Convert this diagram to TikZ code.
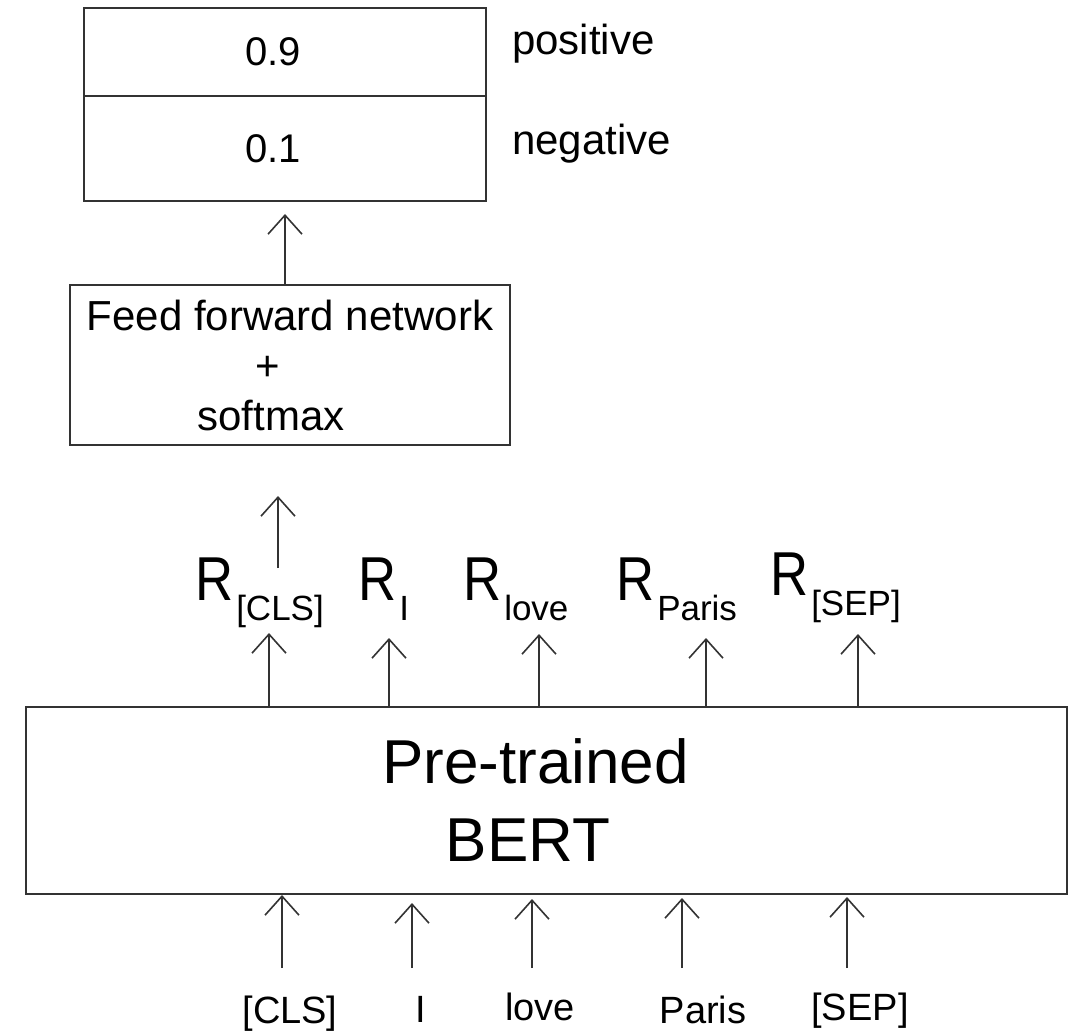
\documentclass[tikz,border=0pt]{standalone}
\usepackage{fontspec}
\setmainfont{Liberation Sans}
\newfontfamily\narrowfont{Liberation Sans}[FakeStretch=0.85]
\usepackage{tikz}
\usetikzlibrary{arrows.meta, positioning}

\definecolor{edge}{HTML}{333333}
\tikzset{
  box/.style={draw=edge, line width=2pt, inner sep=0pt},
  lbl/.style={inner sep=0pt},
  up/.style={draw=edge, line width=1.6pt, -{Straight Barb[length=19pt,width=34pt]}},
}
% R with a lowered token name
\newcommand{\rep}[1]{{\narrowfont\fontsize{62}{66}\selectfont R}\kern3pt\raisebox{-20pt}{\fontsize{35}{40}\selectfont #1}}

\begin{document}
\begin{tikzpicture}[x=1pt, y=-1pt]
  \useasboundingbox (0,0) rectangle (1069,1032);

  % class scores
  \node[box, minimum width=402, minimum height=88, font=\fontsize{40}{48}\selectfont] (pos) at (285,52) {0.9\kern24pt};
  \node[box, minimum width=402, minimum height=105, font=\fontsize{40}{48}\selectfont] (neg) at (285,148.5) {0.1\kern24pt};
  \node[lbl, anchor=base west, font=\fontsize{42}{48}\selectfont] (lpos) at (512,55) {positive};
  \node[lbl, anchor=base west, font=\fontsize{42}{48}\selectfont] (lneg) at (512,155) {negative};

  % classifier head
  \node[box, minimum width=440, minimum height=160, align=center, font=\fontsize{42}{50}\selectfont] (ffn) at (290,365)
    {Feed forward network\\+\kern44pt\\softmax\kern38pt};
  \draw[up, shorten >=12pt] (neg.south |- ffn.north) -- (neg.south);

  % token representations
  \node[lbl, anchor=base west] (rcls) at (195,600) {\rep{[CLS]}};
  \node[lbl, anchor=base west] (ri) at (358,600) {\rep{I}};
  \node[lbl, anchor=base west] (rlove) at (463,600) {\rep{love}};
  \node[lbl, anchor=base west] (rparis) at (616,600) {\rep{Paris}};
  \node[lbl, anchor=base west] (rsep) at (770,595) {\rep{[SEP]}};
  \coordinate (hcls) at (278,568);
  \draw[up, shorten >=50pt] (hcls) -- (hcls |- ffn.south);

  % encoder
  \node[box, minimum width=1041, minimum height=187, align=center, font=\fontsize{62}{78}\selectfont] (bert) at (546.5,800.5)
    {Pre-trained\kern22pt\\BERT\kern37pt};
  \foreach \n/\x/\y in {cls/269/633, i/389/638, love/539/634, paris/706/638, sep/858/634} {
    \coordinate (t\n) at (\x,\y);
    \draw[up] (bert.north -| t\n) -- (t\n);
  }

  % input tokens
  \node[lbl, anchor=base, font=\fontsize{38}{44}\selectfont] (wcls) at (290,1023) {[CLS]};
  \node[lbl, anchor=base, font=\fontsize{38}{44}\selectfont] (wi) at (421,1022) {I};
  \node[lbl, anchor=base, font=\fontsize{38}{44}\selectfont] (wlove) at (540,1020) {love};
  \node[lbl, anchor=base, font=\fontsize{38}{44}\selectfont] (wparis) at (703,1023) {Paris};
  \node[lbl, anchor=base, font=\fontsize{38}{44}\selectfont] (wsep) at (860,1020) {[SEP]};
  \foreach \n/\x/\g in {cls/282/0, i/412/8, love/532/4, paris/682/3, sep/847/2} {
    \coordinate (s\n) at (\x,968);
    \draw[up, shorten >=\g pt] (s\n) -- (s\n |- bert.south);
  }
\end{tikzpicture}
\end{document}
